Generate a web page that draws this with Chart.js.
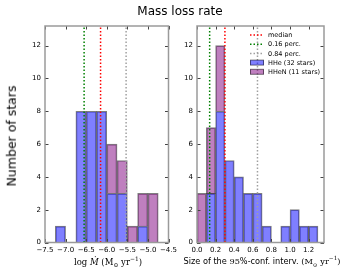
<!DOCTYPE html>
<html>
<head>
<meta charset="utf-8">
<script src="https://cdn.jsdelivr.net/npm/chart.js@4.4.0/dist/chart.umd.min.js"></script>
<style>
body { margin: 0; background: #fff; }
#wrap { position: relative; width: 360px; height: 270px; overflow: hidden; font-family: "DejaVu Sans", sans-serif; }
canvas { position: absolute; top: 0; }
.txt { position: absolute; white-space: nowrap; color: #000; line-height: 1; }
#title { left: 0; width: 360px; top: 5px; text-align: center; font-size: 12px; }
#ytitle { left: 12px; top: 136px; font-size: 12.5px; transform: translate(-50%, -50%) rotate(-90deg); }
#xtitle1 { left: 108px; top: 262px; transform: translate(-50%, -50%); font-family: "DejaVu Serif", serif; font-size: 8.5px; }
#xtitle2 { left: 262px; top: 261px; transform: translate(-50%, -50%); font-size: 8.2px; }
.serif { font-family: "DejaVu Serif", serif; }
sub, sup { font-size: 70%; line-height: 0; }
</style>
</head>
<body>
<div id="wrap">
  <canvas id="rate-chart" width="180" height="270" style="left:0"></canvas>
  <canvas id="size-chart" width="180" height="270" style="left:180px"></canvas>
  <div class="txt" id="title">Mass loss rate</div>
  <div class="txt" id="ytitle">Number of stars</div>
  <div class="txt" id="xtitle1">log <i>Ṁ</i> (M<sub>⊙</sub> yr<sup>−1</sup>)</div>
  <div class="txt" id="xtitle2">Size of the <span class="serif">95</span>%-conf. interv. <span class="serif">(M<sub>⊙</sub> yr<sup>−1</sup>)</span></div>
</div>
<script>
// Histogram data

const countTicks = [0, 2, 4, 6, 8, 10, 12];
const countMax = 13.2;

// left panel: log mass loss rate
const rateBins = [-7.125, -6.875, -6.625, -6.375, -6.125, -5.875, -5.625, -5.375, -5.125, -4.875];
const rateHHe = [1, 0, 8, 8, 8, 3, 3, 0, 1, 0];
const rateHHeN = [0, 0, 0, 0, 0, 3, 2, 1, 2, 3];
const rateLines = [-6.15, -6.55, -5.53];   // median, 0.16, 0.84
const rateTicks = [-7.5, -7.0, -6.5, -6.0, -5.5, -5.0, -4.5];
const rateRange = [-7.5, -4.5];

// right panel: size of the 95% confidence interval
const sizeBins = [0.05, 0.15, 0.25, 0.35, 0.45, 0.55, 0.65, 0.75, 0.85, 0.95, 1.05, 1.15, 1.25];
const sizeHHe = [0, 3, 8, 5, 4, 3, 3, 1, 0, 1, 2, 1, 1];
const sizeHHeN = [3, 4, 4, 0, 0, 0, 0, 0, 0, 0, 0, 0, 0];
const sizeLines = [0.30, 0.136, 0.65];
const sizeTicks = [0.0, 0.2, 0.4, 0.6, 0.8, 1.0, 1.2];
const sizeRange = [0, 1.365];

const lineLabels = ['median', '0.16 perc.', '0.84 perc.'];
const lineColors = ['#ff0000', '#008000', '#a0a0a0'];
const histLabels = ['HHe (32 stars)', 'HHeN (11 stars)'];
const histColors = ['rgba(0,0,255,0.5)', 'rgba(128,0,128,0.5)'];

const tickFont = { family: 'DejaVu Sans', size: 7 };

function minus(v) {
    return String(v).replace('-', '\u2212');
}

function buildDatasets(bins, hhe, hhen, lines) {
    const sets = lines.map((v, i) => ({
        type: 'line',
        label: lineLabels[i],
        data: [{ x: v, y: 0 }, { x: v, y: countMax }],
        borderColor: lineColors[i],
        borderWidth: 1.5,
        borderDash: [1.5, 2],
        pointRadius: 0,
        stack: 'line' + i
    }));
    [hhe, hhen].forEach((vals, k) => {
        sets.push({
            type: 'bar',
            label: histLabels[k],
            data: bins.map((x, i) => ({ x: x, y: vals[i] })),
            backgroundColor: histColors[k],
            borderColor: 'rgba(0,0,0,0.5)',
            borderWidth: 1,
            barPercentage: 1,
            categoryPercentage: 1,
            stack: 'hist'
        });
    });
    return sets;
}

// inward ticks on all four sides plus grey frame
const framePlugin = {
    id: 'frame',
    afterDatasetsDraw(chart) {
        const { ctx, chartArea: a, scales: { x, y } } = chart;
        ctx.save();
        ctx.strokeStyle = '#444';
        ctx.lineWidth = 1;
        ctx.beginPath();
        x.ticks.forEach(t => {
            const px = Math.round(x.getPixelForValue(t.value)) + 0.5;
            ctx.moveTo(px, a.bottom); ctx.lineTo(px, a.bottom - 3.5);
            ctx.moveTo(px, a.top); ctx.lineTo(px, a.top + 3.5);
        });
        y.ticks.forEach(t => {
            const py = Math.round(y.getPixelForValue(t.value)) + 0.5;
            ctx.moveTo(a.left, py); ctx.lineTo(a.left + 3.5, py);
            ctx.moveTo(a.right, py); ctx.lineTo(a.right - 3.5, py);
        });
        ctx.stroke();
        ctx.strokeStyle = '#9a9a9a';
        ctx.lineWidth = 1.5;
        ctx.strokeRect(a.left, a.top, a.width, a.height);
        ctx.restore();
    }
};

// matplotlib-like legend in the upper right of the right panel
const legendPlugin = {
    id: 'legendBox',
    afterDraw(chart) {
        const ctx = chart.ctx;
        const hx = 70, tx = 88, y0 = 35, step = 9.2;
        ctx.save();
        ctx.font = '6.5px "DejaVu Sans"';
        ctx.textBaseline = 'middle';
        chart.data.datasets.forEach((ds, i) => {
            const cy = y0 + i * step;
            if (ds.type === 'line') {
                ctx.strokeStyle = ds.borderColor;
                ctx.lineWidth = 1.5;
                ctx.setLineDash([1.5, 2]);
                ctx.beginPath();
                ctx.moveTo(hx, cy); ctx.lineTo(hx + 13, cy);
                ctx.stroke();
                ctx.setLineDash([]);
            } else {
                ctx.fillStyle = ds.backgroundColor;
                ctx.fillRect(hx, cy - 2.5, 14, 5);
                ctx.strokeStyle = ds.borderColor;
                ctx.lineWidth = 1;
                ctx.strokeRect(hx + 0.5, cy - 2.5, 13, 5);
            }
            ctx.fillStyle = '#000';
            ctx.fillText(ds.label, tx, cy + 0.5);
        });
        ctx.restore();
    }
};

function makeChart(id, bins, hhe, hhen, lines, ticks, range, opts) {
    return new Chart(document.getElementById(id), {
        type: 'bar',
        data: { datasets: buildDatasets(bins, hhe, hhen, lines) },
        options: {
            responsive: false,
            animation: false,
            devicePixelRatio: 1,
            layout: { padding: { top: 26, right: opts.right, left: 0, bottom: 0 } },
            plugins: { legend: { display: false }, tooltip: { enabled: false } },
            scales: {
                x: {
                    type: 'linear',
                    stacked: true,
                    offset: false,
                    min: range[0],
                    max: range[1],
                    afterBuildTicks: s => { s.ticks = ticks.map(v => ({ value: v })); },
                    afterFit: s => { s.height = 27.5; },
                    grid: { display: false, drawTicks: false },
                    border: { display: false },
                    ticks: {
                        font: tickFont, color: '#000', padding: 3, maxRotation: 0,
                        autoSkip: false,
                        callback: v => minus(v.toFixed(1))
                    }
                },
                y: {
                    stacked: true,
                    min: 0,
                    max: countMax,
                    afterBuildTicks: s => { s.ticks = countTicks.map(v => ({ value: v })); },
                    afterFit: s => { s.width = opts.left; },
                    grid: { display: false, drawTicks: false },
                    border: { display: false },
                    ticks: { font: tickFont, color: '#000', padding: 4, callback: v => String(v) }
                }
            }
        },
        plugins: opts.legend ? [framePlugin, legendPlugin] : [framePlugin]
    });
}

makeChart('rate-chart', rateBins, rateHHe, rateHHeN, rateLines, rateTicks, rateRange,
    { left: 45, right: 8, legend: false });
makeChart('size-chart', sizeBins, sizeHHe, sizeHHeN, sizeLines, sizeTicks, sizeRange,
    { left: 17, right: 36, legend: true });
</script>
</body>
</html>
